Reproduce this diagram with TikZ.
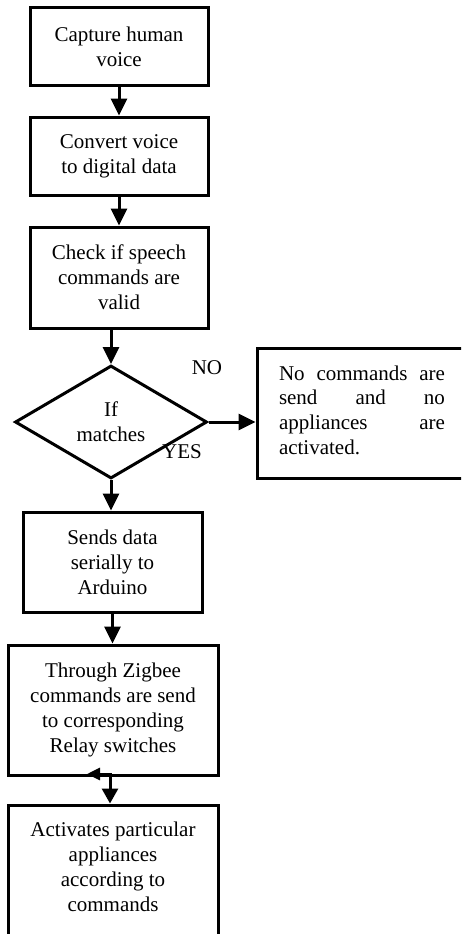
\documentclass[tikz,border=0pt]{standalone}
\usepackage{fontspec}
\setmainfont{Liberation Serif}
\usetikzlibrary{shapes.geometric,arrows.meta}
\begin{document}
\begin{tikzpicture}[x=1pt,y=-1pt,
  every node/.style={font=\fontsize{21}{25}\selectfont},
  box/.style={draw,line width=3pt,inner sep=0pt,align=center},
  txt/.style={inner sep=0pt,align=center},
  arr/.style={line width=3pt,-{Triangle[length=17pt,width=16pt]}},
  ]
\useasboundingbox (0,0) rectangle (461,934);
\clip (0,0) rectangle (461,934);
\node[box,minimum width=178pt,minimum height=77pt] (b1) at (119,46.5) {Capture human\\voice};
\node[box,minimum width=178pt,minimum height=78pt] (b2) at (119,156) {Convert voice\\to digital data};
\node[box,minimum width=178pt,minimum height=101pt] (b3) at (119,277.5) {Check if speech\\commands are\\valid};
\node[draw,diamond,line width=3pt,minimum width=192pt,minimum height=113pt,inner sep=0pt,aspect=1.7,align=center] (d) at (111,422) {If\\matches};
\node[box,minimum width=223pt,minimum height=130pt] (nb) at (368.5,413) {};
\node[inner sep=0pt,text width=166pt,align=left,font=\fontsize{21}{24.7}\selectfont] (nt) at (362,410)
  {No\hfill commands\hfill are\\ send\hfill and\hfill no\\ appliances\hfill are\\ activated.};
\node[txt] (no) at (207,368) {NO};
\node[txt] (yes) at (182,452) {YES};
\node[box,minimum width=179pt,minimum height=100pt] (b4) at (112.5,562) {Sends data\\serially to\\Arduino};
\node[box,minimum width=210pt,minimum height=130pt] (b5) at (113,710) {Through Zigbee\\commands are send\\to corresponding\\Relay switches};
\node[box,minimum width=210pt,minimum height=160pt] (b6) at (113,885) {};
\node[txt] (b6t) at (113,867) {Activates particular\\appliances\\according to\\commands};
\draw[arr] (b1) -- (b2);
\draw[arr] (b2) -- (b3);
\draw[arr] (d.north |- b3.south) -- (d.north);
\draw[arr] (d.east) -- (d.east -| nb.west);
\draw[arr] (d.south) -- (d.south |- b4.north);
\draw[arr] (b4.south) -- (b4.south |- b5.north);
\coordinate (lt) at (87,774);
\coordinate (el) at (110,774);
\draw[line width=3pt,{Triangle[length=13pt,width=12pt]}-{Triangle[length=15pt,width=16pt]}] (lt) -- (el) -- (el |- b6.north);
\end{tikzpicture}
\end{document}
